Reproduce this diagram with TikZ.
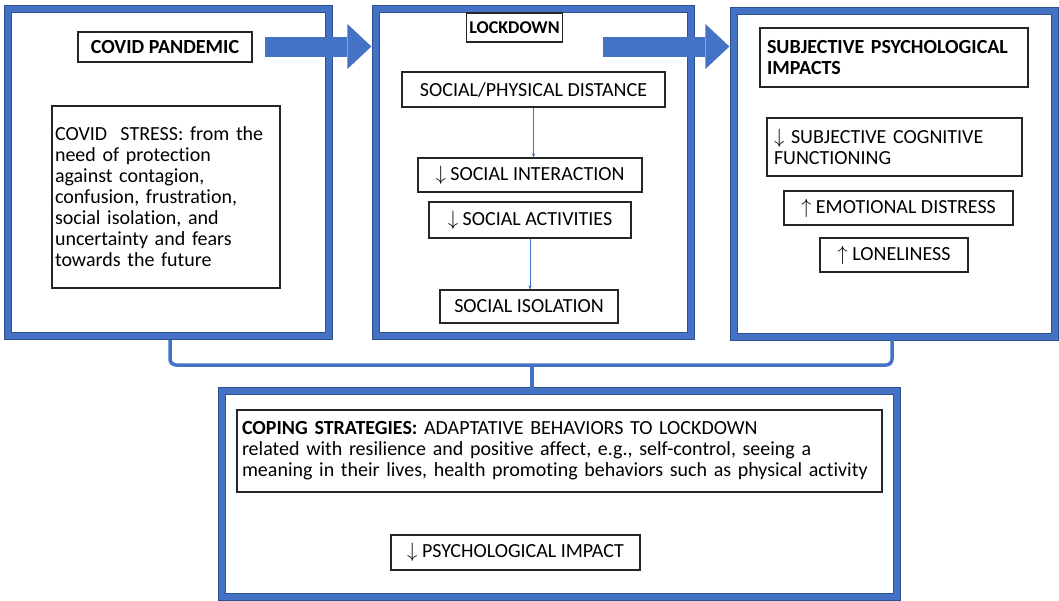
\documentclass[tikz,border=0pt]{standalone}
\usepackage{fontspec}
\setmainfont{Carlito}[Ligatures=NoCommon]
\usepackage{tikz}
\usetikzlibrary{shapes,arrows.meta,positioning,fit}
\definecolor{panelblue}{HTML}{4472C4}
\definecolor{paneledge}{HTML}{2F528F}
\definecolor{boxline}{HTML}{262626}
\tikzstyle{panel} = [draw=paneledge, line width=1.2pt, double=panelblue, double distance=5.5pt, inner sep=0pt]
\tikzstyle{tbox} = [draw=boxline, line width=1.2pt, fill=white, inner xsep=5pt, inner ysep=2pt, text=black, font=\fontsize{20}{21}\selectfont]
\tikzstyle{lbox} = [tbox, align=left]
\tikzstyle{bigarrow} = [draw=panelblue, line width=20pt, -{Triangle[width=45pt,length=24pt,line width=0pt]}, shorten >=4pt]
\tikzstyle{line} = [draw=panelblue, line width=1pt, -{Stealth[length=4pt,width=3.5pt]}]
\tikzstyle{brace} = [draw=panelblue, line width=3.5pt, rounded corners=6pt]

\begin{document}
\begin{tikzpicture}[x=1pt, y=-1pt]
	\useasboundingbox (0,0) rectangle (1059,600);
	
	% the four frames
	\node [panel, fit={(8,9) (329,336)}] (p1) {};
	\node [panel, fit={(376,9) (691,336)}] (p2) {};
	\node [panel, fit={(734,11) (1055,337)}] (p3) {};
	\node [panel, fit={(222,391) (897,597)}] (pb) {};
	
	% covid pandemic
	\node [tbox, minimum width=174pt, minimum height=30pt] (pandemic) at (165,47) {\textbf{COVID PANDEMIC}};
	\node [lbox, inner xsep=3pt, text width=222pt, minimum height=182pt] (stress) at (166,197) {COVID\ \ STRESS: from the\\need of protection\\against contagion,\\confusion, frustration,\\social isolation, and\\uncertainty and fears\\towards the future};
	
	% lockdown
	\node [tbox, inner xsep=3pt, minimum width=95pt, minimum height=29pt, font=\fontsize{18}{20}\selectfont] (lockdown) at (514.5,27.5) {\textbf{LOCKDOWN}};
	\node [tbox, minimum width=263pt, minimum height=35pt] (distance) at (533.5,89.5) {SOCIAL/PHYSICAL DISTANCE};
	\node [tbox, minimum width=224pt, minimum height=34pt] (interaction) at (530,175) {$\downarrow$ SOCIAL INTERACTION};
	\node [tbox, minimum width=202pt, minimum height=36pt] (activities) at (530,220) {$\downarrow$ SOCIAL ACTIVITIES};
	\node [tbox, minimum width=178pt, minimum height=33pt] (isolation) at (529,306.5) {SOCIAL ISOLATION};
	
	% psychological impacts
	\node [lbox, inner xsep=7pt, text width=254pt, minimum height=59pt] (impacts) at (894,57.5) {\textbf{SUBJECTIVE PSYCHOLOGICAL}\\\textbf{IMPACTS}};
	\node [lbox, inner xsep=7pt, text width=241pt, minimum height=58pt] (cognitive) at (894.5,147) {$\downarrow$ SUBJECTIVE COGNITIVE\\FUNCTIONING};
	\node [tbox, minimum width=229pt, minimum height=34pt] (distress) at (898.5,208) {$\uparrow$ EMOTIONAL DISTRESS};
	\node [tbox, minimum width=148pt, minimum height=34pt] (loneliness) at (894,255) {$\uparrow$ LONELINESS};
	
	% coping
	\node [lbox, text width=635pt, minimum height=82pt] (coping) at (559.5,451) {\textbf{COPING STRATEGIES:} ADAPTATIVE BEHAVIORS TO LOCKDOWN\\related with resilience and positive affect, e.g., self-control, seeing a\\meaning in their lives, health promoting behaviors such as physical activity};
	\node [tbox, minimum width=249pt, minimum height=35pt] (psyimpact) at (515.5,552.5) {$\downarrow$ PSYCHOLOGICAL IMPACT};
	
	% arrows
	\coordinate (a1) at (265,46.5);
	\coordinate (a2) at (603,46.5);
	\draw [bigarrow] (a1) -- (a1 -| p2.west);
	\draw [bigarrow] (a2) -- (a2 -| p3.west);
	\path [line] (distance.south) -- (distance.south |- interaction.north);
	\path [line] (activities.south) -- (activities.south |- isolation.north);
	
	% brace
	\coordinate (bl) at (170,340);
	\coordinate (br) at (892,340);
	\coordinate (bm) at (532,365);
	\draw [brace] (bl) |- (bm) -| (br);
	\draw [brace] (bm) -- (bm |- pb.north);
\end{tikzpicture}
\end{document}
